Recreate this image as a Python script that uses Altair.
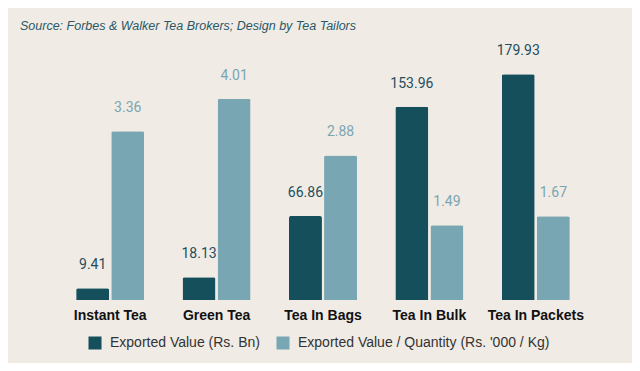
import altair as alt
import pandas as pd

categories = ["Instant Tea", "Green Tea", "Tea In Bags", "Tea In Bulk", "Tea In Packets"]
series = ["Exported Value (Rs. Bn)", "Exported Value / Quantity (Rs. '000 / Kg)"]
exported_value = [9.41, 18.13, 66.86, 153.96, 179.93]
value_per_qty = [3.36, 4.01, 2.88, 1.49, 1.67]

rows = []
for c, v in zip(categories, exported_value):
    rows.append({"cat": c, "series": series[0], "value": v})
for c, v in zip(categories, value_per_qty):
    rows.append({"cat": c, "series": series[1], "value": v})
df = pd.DataFrame(rows)

DARK = "#154f5c"
LIGHT = "#78a6b2"
FONT = "Roboto"
SANS = "Liberation Sans"

x_enc = alt.X("cat:N", sort=categories, title=None,
              scale=alt.Scale(paddingInner=0.36, paddingOuter=0.18),
              axis=alt.Axis(labelAngle=0, ticks=False, domain=False, labelPadding=8,
                            labelFont=SANS, labelFontWeight="bold", labelFontSize=14,
                            labelColor="#111111"))
xo_enc = alt.XOffset("series:N", scale=alt.Scale(domain=series, paddingInner=0.06))
color_enc = alt.Color("series:N", scale=alt.Scale(domain=series, range=[DARK, LIGHT]),
                      legend=alt.Legend(title=None, orient="none", direction="horizontal",
                                        legendX=31, legendY=287, symbolType="square",
                                        symbolSize=169, symbolStrokeWidth=0, labelFont=SANS,
                                        labelFontSize=14, labelColor="#333333", labelOffset=8,
                                        labelLimit=0, columnPadding=16, padding=0,
                                        symbolOpacity=1))

base = alt.Chart(df).encode(x=x_enc, xOffset=xo_enc)


def make_layer(s, dom, txtcolor):
    b = base.transform_filter(alt.datum.series == s)
    y = alt.Y("value:Q", scale=alt.Scale(domain=dom), axis=None, title=None)
    bars = b.mark_bar(cornerRadiusTopLeft=2, cornerRadiusTopRight=2).encode(y=y, color=color_enc)
    txt = b.mark_text(dy=-23, font=FONT, fontSize=14, color=txtcolor).encode(
        y=y, text=alt.Text("value:Q", format=".2f"))
    return alt.layer(bars, txt)


chart = alt.layer(
    make_layer(series[0], [0, 200], "#1f4e5f"),
    make_layer(series[1], [0, 5], "#7aa6b2"),
).resolve_scale(y="independent").properties(
    width=532, height=251,
    background="#f0ebe5",
    padding={"left": 49, "top": 41, "right": 43, "bottom": 63},
    autosize=alt.AutoSizeParams(type="none"),
    title=alt.TitleParams("Source: Forbes & Walker Tea Brokers; Design by Tea Tailors",
                          anchor="start", frame="group", dx=-37, offset=12,
                          font=SANS, fontSize=12.5, fontStyle="italic", fontWeight="normal",
                          color="#2a5867"),
).configure_view(stroke=None)

chart.save("out.html", embed_options={"renderer": "svg", "actions": False})
